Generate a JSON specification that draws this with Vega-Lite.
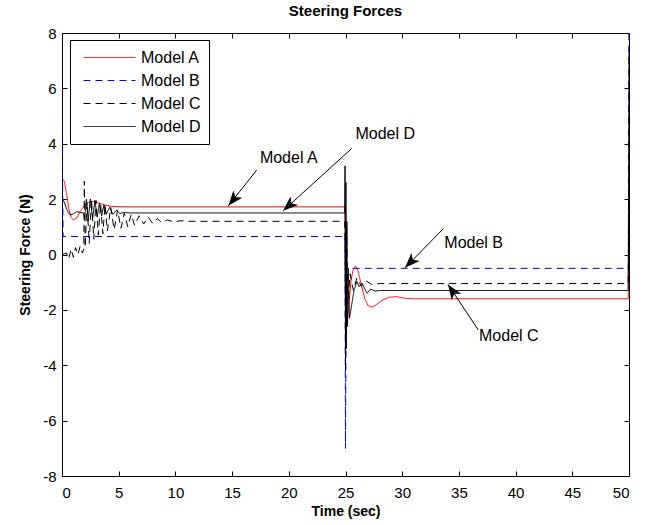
{
  "$schema": "https://vega.github.io/schema/vega-lite/v6.json",
  "autosize": "none",
  "width": 567,
  "height": 443,
  "padding": {"left": 62, "top": 33, "right": 21, "bottom": 49},
  "background": "white",
  "title": {"text": "Steering Forces", "font": "Liberation Sans Narrow, Liberation Sans", "fontSize": 15, "fontWeight": "bold", "color": "black", "offset": 7},
  "config": {
    "view": {"stroke": "black", "strokeWidth": 1},
    "axis": {
      "domain": false, "grid": false,
      "tickColor": "black", "tickSize": -5, "tickWidth": 1,
      "labelFont": "Liberation Sans Narrow, Liberation Sans", "labelFontSize": 15, "labelColor": "black",
      "labelExpr": "replace(datum.label, '\u2212', '-')",
      "titleFont": "Liberation Sans", "titleFontSize": 14, "titleFontWeight": "bold", "titleColor": "black"
    }
  },
  "datasets": {
    "curves": [
      {"t": 0, "f": 2.75, "m": "Model A"}, {"t": 0.2, "f": 2.65, "m": "Model A"}, {"t": 0.4, "f": 2.2, "m": "Model A"},
      {"t": 0.6, "f": 1.65, "m": "Model A"}, {"t": 0.8, "f": 1.35, "m": "Model A"}, {"t": 1.0, "f": 1.25, "m": "Model A"},
      {"t": 1.3, "f": 1.32, "m": "Model A"}, {"t": 1.6, "f": 1.55, "m": "Model A"}, {"t": 2.0, "f": 1.78, "m": "Model A"},
      {"t": 2.4, "f": 1.9, "m": "Model A"}, {"t": 2.8, "f": 1.92, "m": "Model A"}, {"t": 3.3, "f": 1.85, "m": "Model A"},
      {"t": 3.8, "f": 1.78, "m": "Model A"}, {"t": 4.5, "f": 1.73, "m": "Model A"}, {"t": 5.5, "f": 1.72, "m": "Model A"},
      {"t": 24.95, "f": 1.72, "m": "Model A"}, {"t": 25.05, "f": -1.0, "m": "Model A"}, {"t": 25.15, "f": -2.47, "m": "Model A"},
      {"t": 25.3, "f": -1.8, "m": "Model A"}, {"t": 25.5, "f": -0.9, "m": "Model A"}, {"t": 25.7, "f": -0.5, "m": "Model A"},
      {"t": 25.9, "f": -0.42, "m": "Model A"}, {"t": 26.1, "f": -0.6, "m": "Model A"}, {"t": 26.4, "f": -1.1, "m": "Model A"},
      {"t": 26.7, "f": -1.6, "m": "Model A"}, {"t": 27.0, "f": -1.85, "m": "Model A"}, {"t": 27.3, "f": -1.9, "m": "Model A"},
      {"t": 27.7, "f": -1.82, "m": "Model A"}, {"t": 28.2, "f": -1.66, "m": "Model A"}, {"t": 28.8, "f": -1.55, "m": "Model A"},
      {"t": 29.5, "f": -1.52, "m": "Model A"}, {"t": 30.2, "f": -1.58, "m": "Model A"}, {"t": 31, "f": -1.6, "m": "Model A"},
      {"t": 49.93, "f": -1.6, "m": "Model A"}, {"t": 50, "f": 2.7, "m": "Model A"},

      {"t": 0, "f": 4.7, "m": "Model B"}, {"t": 0.1, "f": 0.65, "m": "Model B"}, {"t": 24.95, "f": 0.65, "m": "Model B"},
      {"t": 25.0, "f": -7.0, "m": "Model B"}, {"t": 25.08, "f": -0.5, "m": "Model B"}, {"t": 49.95, "f": -0.5, "m": "Model B"},
      {"t": 50, "f": 8.5, "m": "Model B"},

      {"t": 0, "f": 0.0, "m": "Model C"}, {"t": 0.4, "f": 0.05, "m": "Model C"}, {"t": 0.6, "f": -0.15, "m": "Model C"},
      {"t": 0.8, "f": 0.2, "m": "Model C"}, {"t": 1.0, "f": -0.1, "m": "Model C"}, {"t": 1.2, "f": 0.25, "m": "Model C"},
      {"t": 1.4, "f": 0.0, "m": "Model C"}, {"t": 1.6, "f": 0.3, "m": "Model C"}, {"t": 1.8, "f": 0.05, "m": "Model C"},
      {"t": 1.92, "f": 0.2, "m": "Model C"}, {"t": 1.97, "f": 2.65, "m": "Model C"}, {"t": 2.05, "f": 0.25, "m": "Model C"},
      {"t": 2.2, "f": 1.9, "m": "Model C"}, {"t": 2.4, "f": 0.4, "m": "Model C"}, {"t": 2.6, "f": 2.0, "m": "Model C"},
      {"t": 2.8, "f": 0.55, "m": "Model C"}, {"t": 3.0, "f": 1.95, "m": "Model C"}, {"t": 3.2, "f": 0.7, "m": "Model C"},
      {"t": 3.4, "f": 1.85, "m": "Model C"}, {"t": 3.6, "f": 0.75, "m": "Model C"}, {"t": 3.8, "f": 1.8, "m": "Model C"},
      {"t": 4.0, "f": 0.85, "m": "Model C"}, {"t": 4.3, "f": 1.7, "m": "Model C"}, {"t": 4.6, "f": 0.9, "m": "Model C"},
      {"t": 4.9, "f": 1.6, "m": "Model C"}, {"t": 5.2, "f": 0.95, "m": "Model C"}, {"t": 5.5, "f": 1.5, "m": "Model C"},
      {"t": 5.8, "f": 1.0, "m": "Model C"}, {"t": 6.1, "f": 1.45, "m": "Model C"}, {"t": 6.4, "f": 1.05, "m": "Model C"},
      {"t": 6.8, "f": 1.4, "m": "Model C"}, {"t": 7.2, "f": 1.1, "m": "Model C"}, {"t": 7.6, "f": 1.35, "m": "Model C"},
      {"t": 8.0, "f": 1.12, "m": "Model C"}, {"t": 8.4, "f": 1.3, "m": "Model C"}, {"t": 8.8, "f": 1.15, "m": "Model C"},
      {"t": 9.3, "f": 1.25, "m": "Model C"}, {"t": 9.8, "f": 1.18, "m": "Model C"}, {"t": 10.5, "f": 1.22, "m": "Model C"},
      {"t": 11, "f": 1.2, "m": "Model C"}, {"t": 24.93, "f": 1.2, "m": "Model C"}, {"t": 25.02, "f": -2.6, "m": "Model C"},
      {"t": 25.1, "f": 1.0, "m": "Model C"}, {"t": 25.2, "f": -1.8, "m": "Model C"}, {"t": 25.4, "f": -0.7, "m": "Model C"},
      {"t": 25.7, "f": -1.3, "m": "Model C"}, {"t": 26.0, "f": -0.85, "m": "Model C"}, {"t": 26.4, "f": -1.15, "m": "Model C"},
      {"t": 26.8, "f": -0.95, "m": "Model C"}, {"t": 27.3, "f": -1.08, "m": "Model C"}, {"t": 28, "f": -1.05, "m": "Model C"},
      {"t": 49.93, "f": -1.05, "m": "Model C"}, {"t": 50, "f": 2.0, "m": "Model C"},

      {"t": 0, "f": 2.05, "m": "Model D"}, {"t": 0.2, "f": 1.9, "m": "Model D"}, {"t": 0.4, "f": 1.65, "m": "Model D"},
      {"t": 0.6, "f": 1.48, "m": "Model D"}, {"t": 0.8, "f": 1.43, "m": "Model D"}, {"t": 1.0, "f": 1.47, "m": "Model D"},
      {"t": 1.3, "f": 1.55, "m": "Model D"}, {"t": 1.6, "f": 1.52, "m": "Model D"}, {"t": 1.9, "f": 1.5, "m": "Model D"},
      {"t": 2.0, "f": 1.3, "m": "Model D"}, {"t": 2.15, "f": 2.0, "m": "Model D"}, {"t": 2.3, "f": 1.2, "m": "Model D"},
      {"t": 2.5, "f": 2.0, "m": "Model D"}, {"t": 2.7, "f": 1.3, "m": "Model D"}, {"t": 2.9, "f": 1.95, "m": "Model D"},
      {"t": 3.1, "f": 1.35, "m": "Model D"}, {"t": 3.3, "f": 1.85, "m": "Model D"}, {"t": 3.5, "f": 1.4, "m": "Model D"},
      {"t": 3.7, "f": 1.8, "m": "Model D"}, {"t": 3.9, "f": 1.45, "m": "Model D"}, {"t": 4.2, "f": 1.7, "m": "Model D"},
      {"t": 4.5, "f": 1.45, "m": "Model D"}, {"t": 4.8, "f": 1.6, "m": "Model D"}, {"t": 5.1, "f": 1.48, "m": "Model D"},
      {"t": 5.5, "f": 1.52, "m": "Model D"}, {"t": 6, "f": 1.5, "m": "Model D"}, {"t": 24.93, "f": 1.5, "m": "Model D"},
      {"t": 24.96, "f": 3.2, "m": "Model D"}, {"t": 25.0, "f": -4.2, "m": "Model D"}, {"t": 25.04, "f": 2.6, "m": "Model D"},
      {"t": 25.08, "f": -3.4, "m": "Model D"}, {"t": 25.12, "f": 1.2, "m": "Model D"}, {"t": 25.18, "f": -2.6, "m": "Model D"},
      {"t": 25.25, "f": -0.5, "m": "Model D"}, {"t": 25.35, "f": -2.3, "m": "Model D"}, {"t": 25.5, "f": -1.93, "m": "Model D"},
      {"t": 25.75, "f": -1.3, "m": "Model D"}, {"t": 26.0, "f": -0.98, "m": "Model D"}, {"t": 26.2, "f": -1.16, "m": "Model D"},
      {"t": 26.45, "f": -1.03, "m": "Model D"}, {"t": 26.9, "f": -1.4, "m": "Model D"}, {"t": 27.2, "f": -1.25, "m": "Model D"},
      {"t": 27.6, "f": -1.32, "m": "Model D"}, {"t": 28, "f": -1.3, "m": "Model D"}, {"t": 49.93, "f": -1.3, "m": "Model D"},
      {"t": 50, "f": 7.5, "m": "Model D"}
    ],
    "notes": [
      {"label": "Model A", "tx": 20.0, "ty": 3.48, "x0": 17.17, "y0": 3.05, "x1": 14.67, "y1": 1.76},
      {"label": "Model D", "tx": 28.5, "ty": 4.35, "x0": 25.55, "y0": 3.83, "x1": 19.5, "y1": 1.58},
      {"label": "Model B", "tx": 36.3, "ty": 0.42, "x0": 33.6, "y0": 0.92, "x1": 30.25, "y1": -0.48},
      {"label": "Model C", "tx": 39.4, "ty": -2.94, "x0": 36.7, "y0": -2.72, "x1": 34.04, "y1": -1.08}
    ]
  },
  "layer": [
    {
      "data": {"name": "curves"},
      "mark": {"type": "line", "strokeWidth": 1, "clip": true},
      "encoding": {
        "x": {"field": "t", "type": "quantitative", "scale": {"domain": [0, 50], "nice": false},
              "axis": {"orient": "bottom", "title": "Time (sec)", "values": [0, 5, 10, 15, 20, 25, 30, 35, 40, 45, 50], "labelPadding": 14, "titlePadding": 4}},
        "y": {"field": "f", "type": "quantitative", "scale": {"domain": [-8, 8], "nice": false},
              "axis": {"orient": "left", "title": "Steering Force (N)", "values": [-8, -6, -4, -2, 0, 2, 4, 6, 8], "labelPadding": 11, "titlePadding": 10}},
        "color": {"field": "m", "type": "nominal", "title": null,
                  "scale": {"domain": ["Model A", "Model B", "Model C", "Model D"], "range": ["#ff0000", "#0000ff", "#000000", "#000000"]},
                  "legend": {"orient": "none", "legendX": 8, "legendY": 7, "symbolType": "stroke", "symbolSize": 2704, "symbolStrokeWidth": 1,
                             "symbolOffset": 5, "labelOffset": 5, "clipHeight": 19,
                             "labelFont": "Liberation Sans", "labelFontSize": 16, "labelColor": "black",
                             "strokeColor": "black", "fillColor": "white", "padding": 8, "rowPadding": 4}},
        "strokeDash": {"field": "m", "type": "nominal", "title": null,
                       "scale": {"domain": ["Model A", "Model B", "Model C", "Model D"], "range": [[1, 0], [7, 5], [7, 5], [1, 0]]}},
        "order": {"field": "t", "type": "quantitative"}
      }
    },
    {
      "data": {"name": "notes"},
      "mark": {"type": "rule", "color": "black", "strokeWidth": 1},
      "encoding": {
        "x": {"field": "x0", "type": "quantitative", "axis": {"orient": "top", "labels": false, "title": null, "values": [0, 5, 10, 15, 20, 25, 30, 35, 40, 45, 50]}},
        "y": {"field": "y0", "type": "quantitative", "axis": {"orient": "right", "labels": false, "title": null, "values": [-8, -6, -4, -2, 0, 2, 4, 6, 8]}},
        "x2": {"field": "x1"},
        "y2": {"field": "y1"}
      }
    },
    {
      "data": {"name": "notes"},
      "mark": {"type": "text", "font": "Liberation Sans", "fontSize": 16, "color": "black", "align": "center", "baseline": "middle"},
      "encoding": {
        "x": {"field": "tx", "type": "quantitative", "axis": null},
        "y": {"field": "ty", "type": "quantitative", "axis": null},
        "text": {"field": "label"}
      }
    },
    {
      "data": {"name": "notes"},
      "transform": [{"filter": "datum.label === 'Model A'"}],
      "mark": {"type": "point", "shape": "M0,0L-1,-0.38L-0.75,0L-1,0.38Z", "filled": true, "color": "black", "opacity": 1, "size": 900, "angle": 129},
      "encoding": {"x": {"field": "x1", "type": "quantitative", "axis": null}, "y": {"field": "y1", "type": "quantitative", "axis": null}}
    },
    {
      "data": {"name": "notes"},
      "transform": [{"filter": "datum.label === 'Model D'"}],
      "mark": {"type": "point", "shape": "M0,0L-1,-0.38L-0.75,0L-1,0.38Z", "filled": true, "color": "black", "opacity": 1, "size": 900, "angle": 138},
      "encoding": {"x": {"field": "x1", "type": "quantitative", "axis": null}, "y": {"field": "y1", "type": "quantitative", "axis": null}}
    },
    {
      "data": {"name": "notes"},
      "transform": [{"filter": "datum.label === 'Model B'"}],
      "mark": {"type": "point", "shape": "M0,0L-1,-0.38L-0.75,0L-1,0.38Z", "filled": true, "color": "black", "opacity": 1, "size": 900, "angle": 134},
      "encoding": {"x": {"field": "x1", "type": "quantitative", "axis": null}, "y": {"field": "y1", "type": "quantitative", "axis": null}}
    },
    {
      "data": {"name": "notes"},
      "transform": [{"filter": "datum.label === 'Model C'"}],
      "mark": {"type": "point", "shape": "M0,0L-1,-0.38L-0.75,0L-1,0.38Z", "filled": true, "color": "black", "opacity": 1, "size": 900, "angle": 236},
      "encoding": {"x": {"field": "x1", "type": "quantitative", "axis": null}, "y": {"field": "y1", "type": "quantitative", "axis": null}}
    }
  ],
  "resolve": {"axis": {"x": "independent", "y": "independent"}}
}
